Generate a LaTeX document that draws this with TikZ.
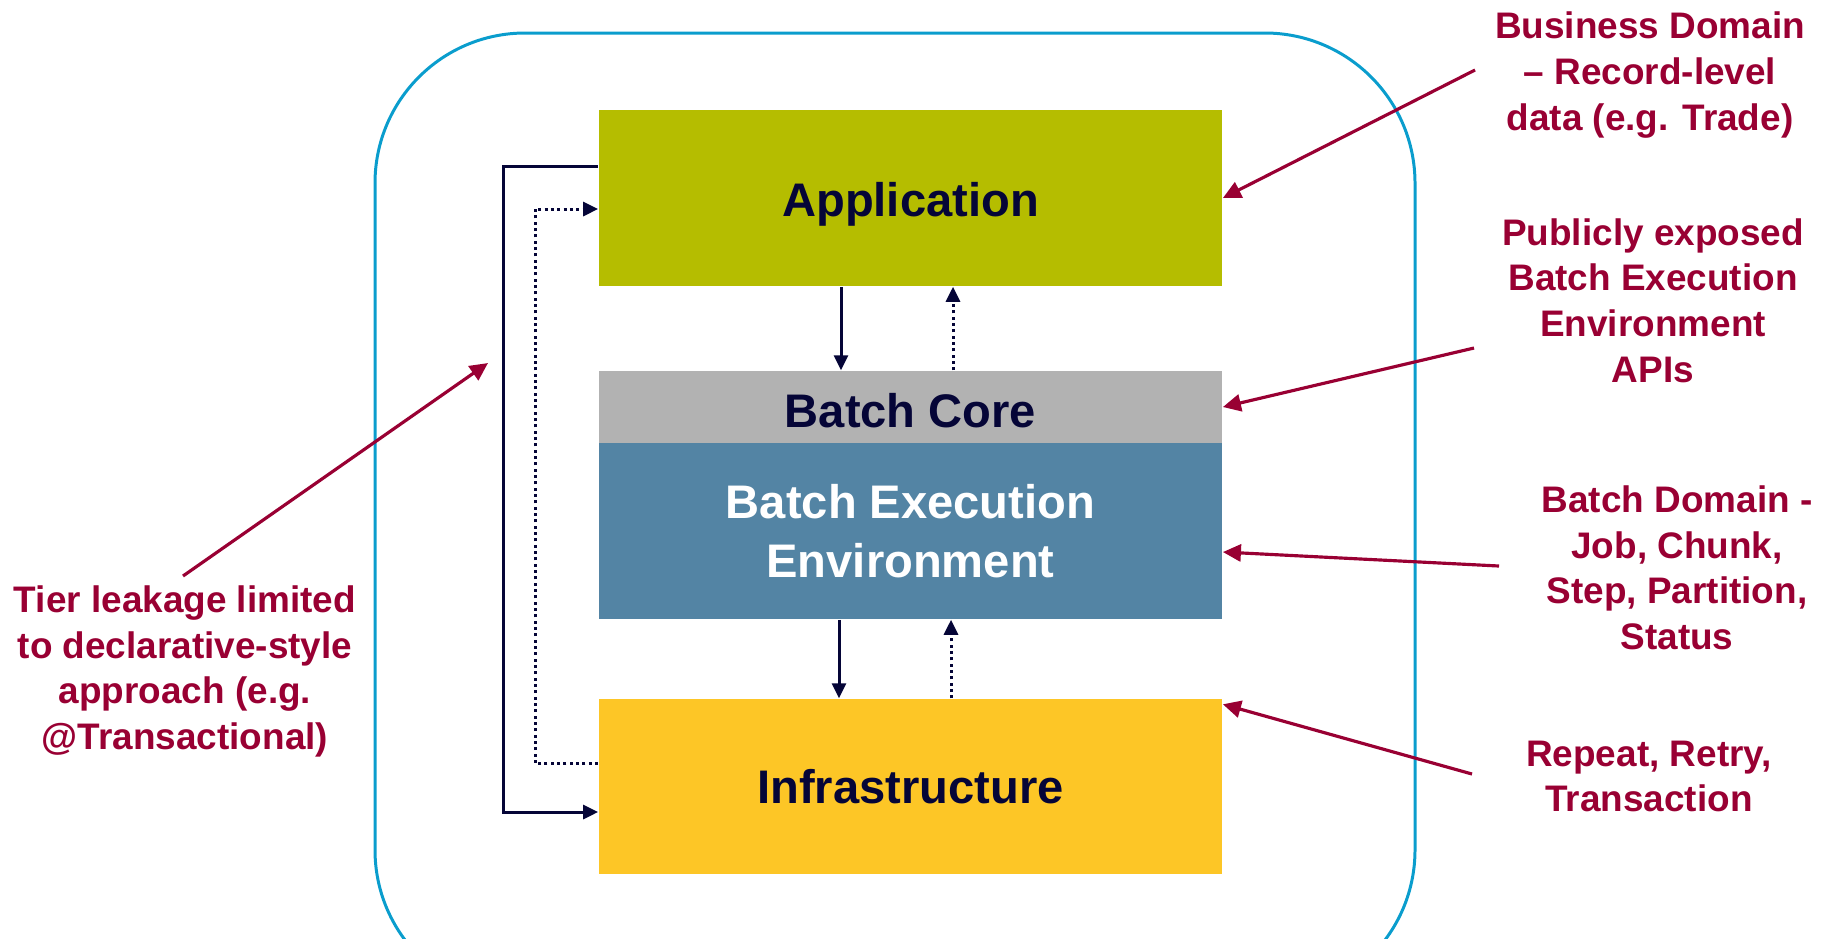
\documentclass[tikz,border=0pt]{standalone}
\usepackage{fontspec}
\setmainfont{Liberation Sans}
\usetikzlibrary{arrows.meta,calc}

\definecolor{appgreen}{RGB}{181,189,0}
\definecolor{coregray}{RGB}{178,178,178}
\definecolor{envblue}{RGB}{83,132,164}
\definecolor{infrayellow}{RGB}{253,198,38}
\definecolor{framecyan}{RGB}{10,157,205}
\definecolor{notered}{RGB}{153,0,51}
\definecolor{ink}{RGB}{5,5,55}

\tikzset{
  tier/.style={minimum width=6.23cm, inner sep=0pt, draw=none,
    font=\fontsize{13.4}{16.8}\selectfont\bfseries, text=ink, align=center},
  note/.style={font=\fontsize{10.5}{12.95}\selectfont\bfseries, text=notered,
    align=center, inner sep=0pt},
  flow/.style={draw=ink, line width=0.85pt, -{Triangle[length=0.15cm,width=0.14cm]}},
  backflow/.style={draw=ink, line width=0.85pt, dash pattern=on 0.85pt off 0.95pt,
    -{Triangle[length=0.15cm,width=0.14cm]}},
  pointer/.style={draw=notered, line width=0.9pt,
    -{Triangle[length=0.18cm,width=0.17cm]}},
}

\begin{document}
\begin{tikzpicture}[x=0.01cm, y=-0.01cm]
  \useasboundingbox (0,0) rectangle (1831,938);
  \clip (0,0) rectangle (1831,938);

  % outer frame (runs past the lower edge)
  \draw[framecyan, line width=0.85pt, rounded corners=1.5cm]
    (375,33) rectangle (1415,1000);

  % the tiers
  \node[tier, fill=appgreen, minimum height=1.76cm] (app) at (910.5,198) {};
  \node[tier, fill=coregray, minimum height=0.72cm] (core) at (910.5,407) {};
  \node[tier, fill=envblue, minimum height=1.76cm, text=white] (env) at (910.5,531)
    {Batch Execution\\Environment};
  \node[tier, fill=infrayellow, minimum height=1.75cm] (infra) at (910.5,786.5) {Infrastructure};
  \node[tier, minimum width=0pt] (appText) at (910.5,204) {Application};
  \node[tier, minimum width=0pt] (coreText) at (910.5,411) {Batch Core};

  % columns of the vertical connectors
  \coordinate (downA) at (841,0);
  \coordinate (upA) at (953,0);
  \coordinate (downB) at (839,0);
  \coordinate (upB) at (951,0);
  \coordinate (busSolid) at (503,812);
  \coordinate (busDotted) at (535,209);

  % calls between adjacent tiers
  \draw[flow] (app.south -| downA) -- (core.north -| downA);
  \draw[backflow] (core.north -| upA) -- (app.south -| upA);
  \draw[flow] (env.south -| downB) -- (infra.north -| downB);
  \draw[backflow] (infra.north -| upB) -- (env.south -| upB);

  % leakage paths on the left
  \draw[flow] ($(app.north west)+(0,57)$) -| (busSolid) -- (infra.west |- busSolid);
  \draw[backflow] ($(infra.west)+(0,-23.5)$) -| (busDotted) -- (app.west |- busDotted);

  % annotations
  \node[note] (biz) at (1650,75) {Business Domain\\– Record-level\\data (e.g. Trade)};
  \node[note] (pub) at (1653,300.5) {Publicly exposed\\Batch Execution\\Environment\\APIs};
  \node[note] (bdom) at (1677,568) {Batch Domain -\\Job, Chunk,\\Step, Partition,\\Status};
  \node[note] (rep) at (1649,776.5) {Repeat, Retry,\\Transaction};
  \node[note] (leak) at (185,671.5) {Tier leakage limited\\to declarative-style\\approach (e.g.\\@Transactional)};

  \coordinate (bizTail) at (1475,70);
  \coordinate (pubTail) at (1474,348);
  \coordinate (bdomTail) at (1499,566);
  \coordinate (repTail) at (1472,774);
  \coordinate (leakTail) at (183,576);
  \coordinate (leakHead) at (488,363);

  \draw[pointer] (bizTail) -- (app.east);
  \draw[pointer] (pubTail) -- (core.east);
  \draw[pointer] (bdomTail) -- ($(env.east)+(0,21)$);
  \draw[pointer] (repTail) -- ($(infra.north east)+(0,6)$);
  \draw[pointer] (leakTail) -- (leakHead);
\end{tikzpicture}
\end{document}
